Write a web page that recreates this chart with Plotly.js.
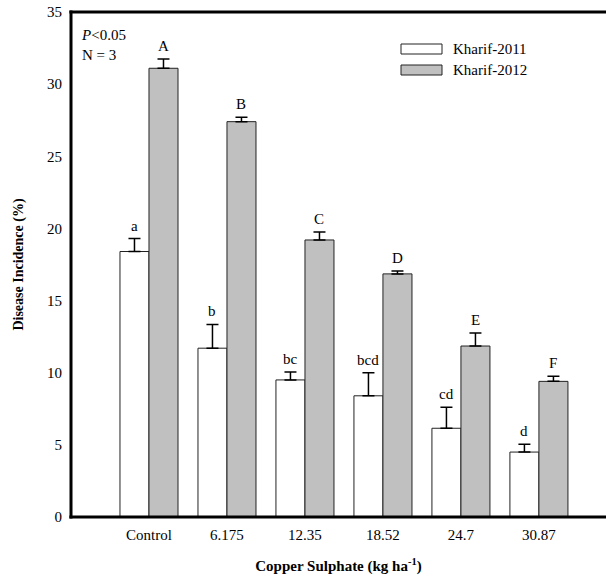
<!DOCTYPE html>
<html>
<head>
<meta charset="utf-8">
<script src="https://cdn.plot.ly/plotly-3.0.1.min.js"></script>
<style>html,body{margin:0;padding:0;background:#fff;overflow:hidden;}#chart{width:606px;height:582px;}</style>
</head>
<body>
<div id="chart"></div>
<script>
var categories = ["Control", "6.175", "12.35", "18.52", "24.7", "30.87"];
var kharif2011 = [18.4, 11.7, 9.5, 8.4, 6.15, 4.5];
var kharif2011Err = [0.9, 1.65, 0.55, 1.6, 1.45, 0.55];
var kharif2011Letters = ["a", "b", "bc", "bcd", "cd", "d"];
var kharif2012 = [31.1, 27.4, 19.2, 16.85, 11.85, 9.4];
var kharif2012Err = [0.65, 0.3, 0.55, 0.2, 0.9, 0.35];
var kharif2012Letters = ["A", "B", "C", "D", "E", "F"];
var seriesNames = ["Kharif-2011", "Kharif-2012"];

var FONT = '"Liberation Serif", "DejaVu Serif", serif';
var zeros = categories.map(function(){return 0;});

var traces = [
  {type:"bar", name:seriesNames[0], x:categories, y:kharif2011,
   marker:{color:"#ffffff", line:{color:"#222", width:1}},
   error_y:{type:"data", symmetric:false, array:kharif2011Err, arrayminus:zeros, color:"#000", thickness:1.5, width:6},
   showlegend:false},
  {type:"bar", name:seriesNames[1], x:categories, y:kharif2012,
   marker:{color:"#c0c0c0", line:{color:"#222", width:1}},
   error_y:{type:"data", symmetric:false, array:kharif2012Err, arrayminus:zeros, color:"#000", thickness:1.5, width:6},
   showlegend:false}
];

var off = 0.186;
var annotations = [];
categories.forEach(function(c, i){
  annotations.push({xref:"x", yref:"y", x:i-off, y:kharif2011[i]+kharif2011Err[i], text:kharif2011Letters[i],
    showarrow:false, yanchor:"bottom", yshift:3, font:{family:FONT, size:15, color:"#000"}});
  annotations.push({xref:"x", yref:"y", x:i+off, y:kharif2012[i]+kharif2012Err[i], text:kharif2012Letters[i],
    showarrow:false, yanchor:"bottom", yshift:3, font:{family:FONT, size:15, color:"#000"}});
});
annotations.push({xref:"paper", yref:"paper", x:0.015, y:0.975, xanchor:"left", yanchor:"top", align:"left",
  text:"<i>P</i><0.05<br>N = 3", showarrow:false, font:{family:FONT, size:15, color:"#000"}});
var PW = 535;
function px2x(p){return (p-71)/PW;}
function py2y(p){return (517-p)/505;}
annotations.push({xref:"paper", yref:"paper", x:px2x(451), y:py2y(49), xanchor:"left", yanchor:"middle",
  text:seriesNames[0], showarrow:false, font:{family:FONT, size:15, color:"#000"}});
annotations.push({xref:"paper", yref:"paper", x:px2x(451), y:py2y(70), xanchor:"left", yanchor:"middle",
  text:seriesNames[1], showarrow:false, font:{family:FONT, size:15, color:"#000"}});

var shapes = [
  {type:"rect", xref:"paper", yref:"paper", x0:px2x(401), x1:px2x(442), y0:py2y(54), y1:py2y(44),
   fillcolor:"#ffffff", line:{color:"#222", width:1}},
  {type:"rect", xref:"paper", yref:"paper", x0:px2x(401), x1:px2x(442), y0:py2y(75), y1:py2y(65),
   fillcolor:"#c0c0c0", line:{color:"#222", width:1}},
  {type:"rect", xref:"paper", yref:"paper", x0:px2x(602), x1:1.02, y0:-0.02, y1:1.02,
   fillcolor:"#ffffff", line:{width:0}},
  {type:"line", xref:"paper", yref:"paper", x0:-0.003, x1:1.01, y0:1, y1:1, line:{color:"#000", width:3}},
  {type:"line", xref:"paper", yref:"paper", x0:-0.003, x1:1.01, y0:0, y1:0, line:{color:"#000", width:3}},
  {type:"line", xref:"paper", yref:"paper", x0:0, x1:0, y0:-0.003, y1:1.003, line:{color:"#000", width:3}}
];

var layout = {
  width:606, height:582,
  margin:{l:71, r:0, t:12, b:65, pad:0},
  paper_bgcolor:"#fff", plot_bgcolor:"#fff",
  barmode:"group", bargap:0.256, bargroupgap:0,
  showlegend:false,
  font:{family:FONT, color:"#000"},
  xaxis:{type:"category", range:[-1, 5.86], showline:false, mirror:false,
    ticks:"", showgrid:false, zeroline:false, tickfont:{family:FONT, size:15, color:"#000"}, ticklabelstandoff:7,
    title:{text:"<b>Copper Sulphate (kg ha<sup>-1</sup>)</b>", font:{family:FONT, size:15, color:"#000"}, standoff:18}},
  yaxis:{range:[0,35], dtick:5, showline:false, mirror:false, ticks:"", showgrid:false, zeroline:false,
    tickfont:{family:FONT, size:15, color:"#000"}, ticklabelstandoff:8,
    title:{text:"<b>Disease Incidence (%)</b>", font:{family:FONT, size:14, color:"#000"}, standoff:20}},
  annotations:annotations,
  shapes:shapes
};

Plotly.newPlot("chart", traces, layout, {displayModeBar:false, staticPlot:true});
</script>
</body>
</html>
